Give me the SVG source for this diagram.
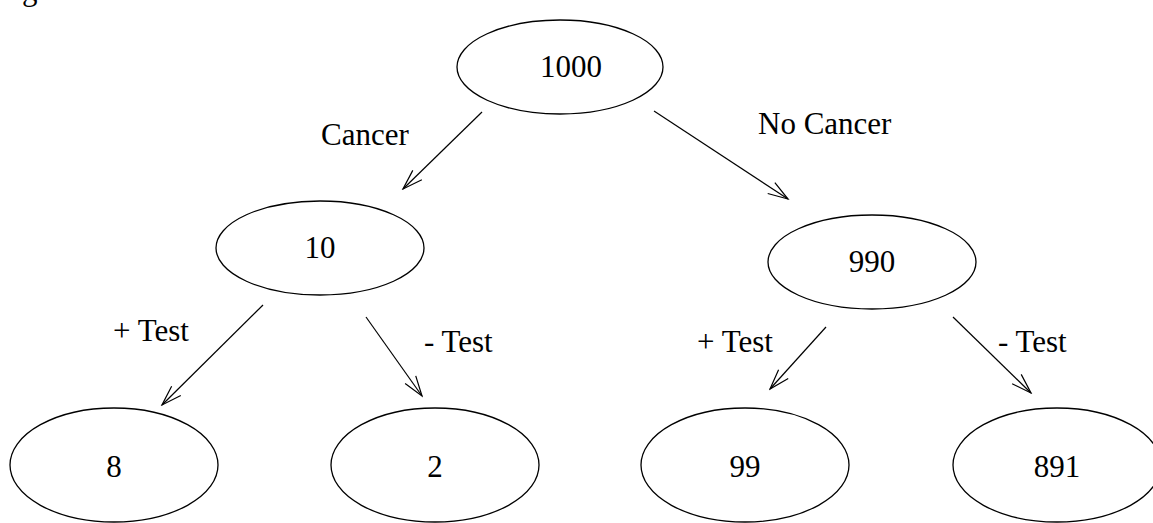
<svg xmlns="http://www.w3.org/2000/svg" width="1153" height="523" viewBox="0 0 1153 523">
<style>
.n ellipse{fill:#fff;stroke:#000;stroke-width:1.3}
text{font-family:"Liberation Serif","Times New Roman",serif;font-size:31px;fill:#000}
.c{text-anchor:middle}
.e line{stroke:#000;stroke-width:1.2}
</style>
<defs>
<marker id="ah" viewBox="-22 -8 24 16" refX="0" refY="0" markerWidth="24" markerHeight="16" markerUnits="userSpaceOnUse" orient="auto">
<path d="M-20,-6.5 L0,0 L-20,6.5" fill="none" stroke="#000" stroke-width="1.2"/>
</marker>
</defs>
<text x="22" y="0">g</text>
<g id="n1000" class="n"><ellipse cx="560" cy="67" rx="103" ry="47"/><text class="c" x="571" y="77">1000</text></g>
<g id="n10" class="n"><ellipse cx="320" cy="248" rx="104" ry="47"/><text class="c" x="320" y="258">10</text></g>
<g id="n990" class="n"><ellipse cx="872" cy="262" rx="104" ry="47"/><text class="c" x="872" y="272">990</text></g>
<g id="n8" class="n"><ellipse cx="114" cy="465" rx="104" ry="57"/><text class="c" x="114" y="477">8</text></g>
<g id="n2" class="n"><ellipse cx="435" cy="465" rx="104" ry="57"/><text class="c" x="435" y="477">2</text></g>
<g id="n99" class="n"><ellipse cx="745" cy="465" rx="104" ry="57"/><text class="c" x="745" y="477">99</text></g>
<g id="n891" class="n"><ellipse cx="1057" cy="465" rx="104" ry="57"/><text class="c" x="1057" y="477">891</text></g>
<g id="edges" class="e">
<line x1="482" y1="112" x2="403" y2="189" marker-end="url(#ah)"/>
<line x1="654" y1="111" x2="788" y2="199" marker-end="url(#ah)"/>
<line x1="263" y1="305" x2="162" y2="405" marker-end="url(#ah)"/>
<line x1="366" y1="317" x2="422" y2="396" marker-end="url(#ah)"/>
<line x1="826" y1="327" x2="770" y2="389" marker-end="url(#ah)"/>
<line x1="953" y1="317" x2="1031" y2="393" marker-end="url(#ah)"/>
<text x="321" y="145">Cancer</text>
<text x="758" y="134">No Cancer</text>
<text x="113" y="341">+ Test</text>
<text x="424" y="352">- Test</text>
<text x="697" y="352">+ Test</text>
<text x="998" y="352">- Test</text>
</g>
</svg>
